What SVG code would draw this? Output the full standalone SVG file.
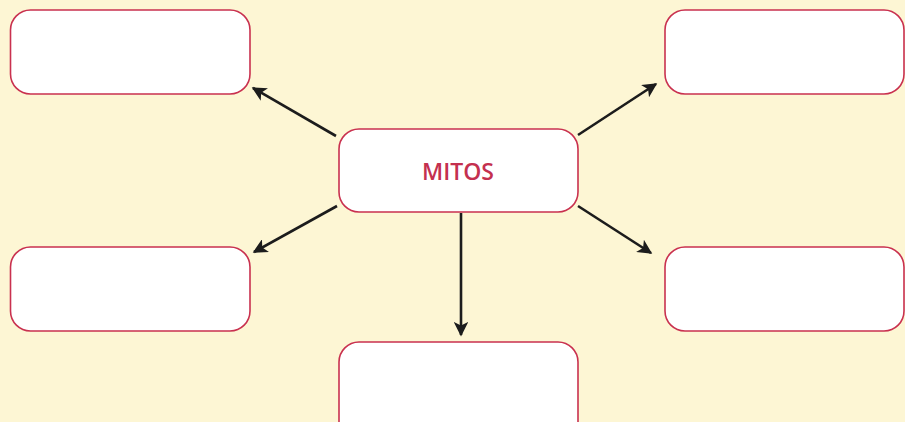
<svg xmlns="http://www.w3.org/2000/svg" width="905" height="422" viewBox="0 0 905 422">
<style>
.box{fill:#ffffff;stroke:#c9314f;stroke-width:1.6}
.con{stroke:#1c1c1c;stroke-width:2.6;fill:none;marker-end:url(#ah)}
.lbl{font-family:"Open Sans","Noto Sans",sans-serif;font-weight:600;font-size:23px;fill:#c4304f;text-anchor:middle}
</style>
<defs>
<marker id="ah" viewBox="0 0 10 10" refX="9" refY="5" markerWidth="6" markerHeight="5.6" markerUnits="strokeWidth" orient="auto">
<path d="M0,0 L10,5 L0,10 L2.5,5 Z" fill="#1c1c1c"/>
</marker>
</defs>
<rect x="0" y="0" width="905" height="422" fill="#fdf6d4"/>
<g id="connectors">
<line class="con" x1="336" y1="136" x2="253" y2="88"/>
<line class="con" x1="578" y1="135" x2="656" y2="84"/>
<line class="con" x1="337" y1="206" x2="254" y2="252"/>
<line class="con" x1="578" y1="206" x2="651" y2="253"/>
<line class="con" x1="461" y1="213" x2="461" y2="335"/>
</g>
<g id="n-center"><rect class="box" x="339" y="129" width="239" height="83" rx="20"/><text class="lbl" x="458" y="180">MITOS</text></g>
<g id="n-tl"><rect class="box" x="10.5" y="10" width="239.5" height="84" rx="20"/></g>
<g id="n-tr"><rect class="box" x="665" y="10" width="239" height="84" rx="20"/></g>
<g id="n-bl"><rect class="box" x="10.5" y="247" width="239.5" height="84" rx="20"/></g>
<g id="n-br"><rect class="box" x="665" y="247" width="239" height="84" rx="20"/></g>
<g id="n-bottom"><rect class="box" x="339" y="342" width="239" height="100" rx="20"/></g>
</svg>
